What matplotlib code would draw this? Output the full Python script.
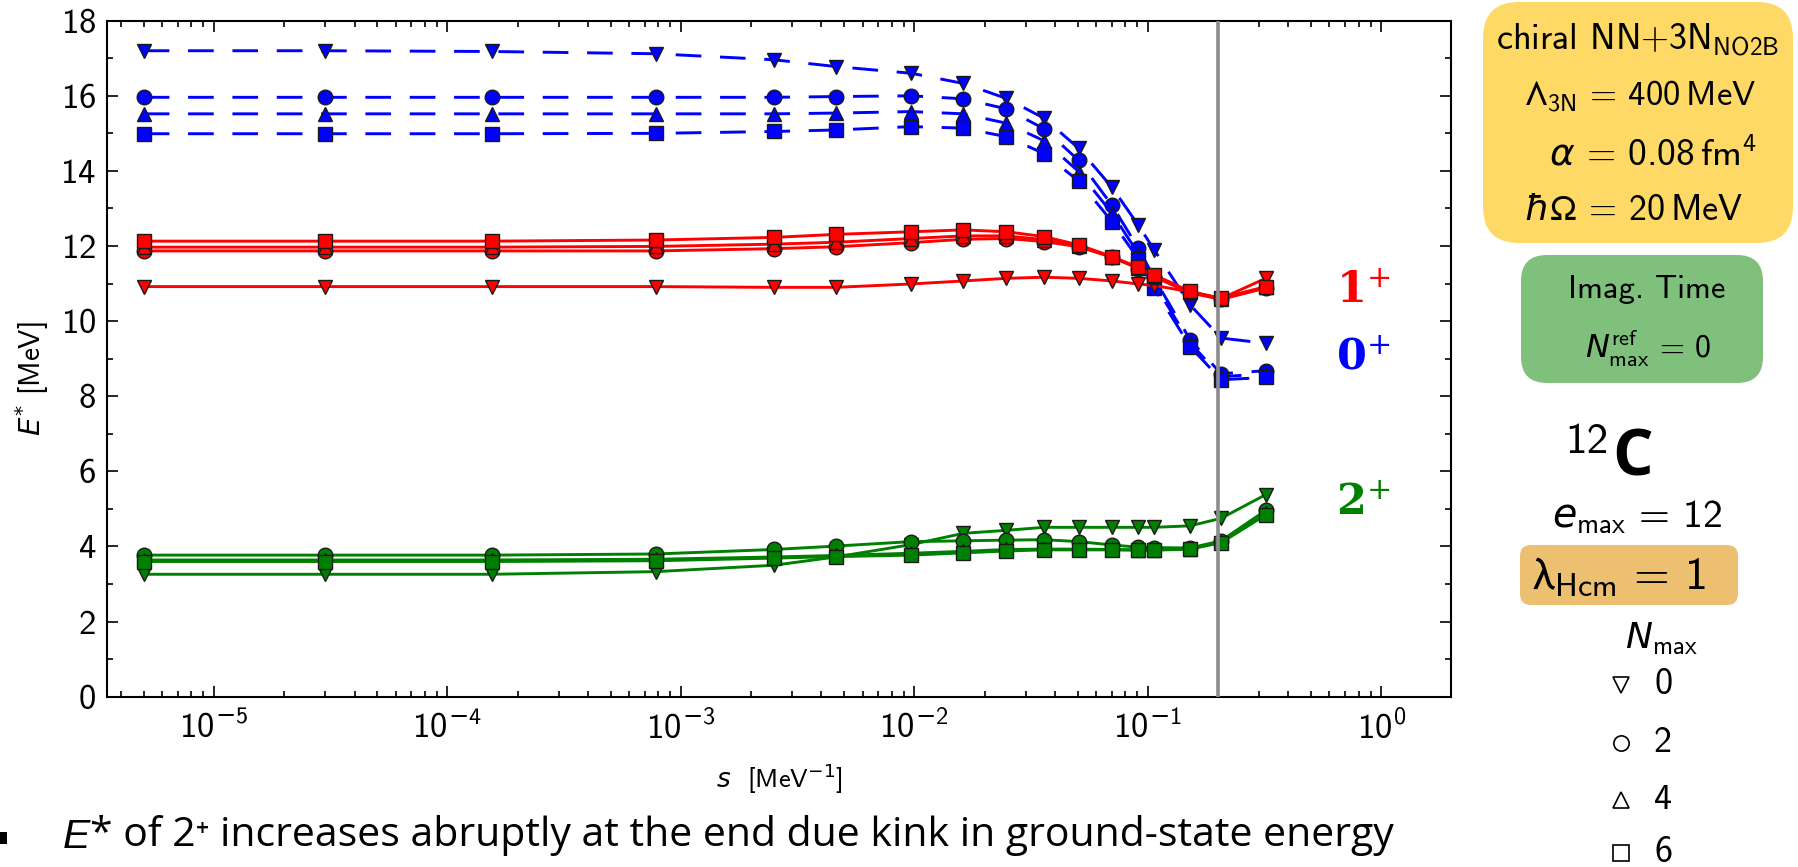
import math
import matplotlib
matplotlib.use("Agg")
import matplotlib.pyplot as plt
from matplotlib.patches import FancyBboxPatch, Rectangle
from matplotlib.ticker import MultipleLocator, LogLocator, NullFormatter, FuncFormatter

# flow parameter s [MeV^-1]
s_values = [5.0e-6, 3.0e-5, 1.55e-4, 7.8e-4, 2.5e-3, 4.6e-3, 9.7e-3, 0.0162,
            0.0248, 0.036, 0.0506, 0.0703, 0.0912, 0.1065, 0.152, 0.206, 0.32]

# excitation energies E* [MeV] of the 0+ state for Nmax = 0, 2, 4, 6
e0p_nmax0 = [17.20, 17.20, 17.18, 17.12, 16.96, 16.78, 16.60, 16.33, 15.93, 15.40, 14.60, 13.56, 12.55, 11.90, 10.43, 9.55, 9.41]
e0p_nmax2 = [15.96, 15.96, 15.96, 15.96, 15.96, 15.98, 16.00, 15.92, 15.65, 15.12, 14.28, 13.08, 11.94, 11.15, 9.50, 8.60, 8.68]
e0p_nmax4 = [15.52, 15.52, 15.52, 15.52, 15.52, 15.54, 15.58, 15.52, 15.27, 14.80, 13.98, 12.87, 11.79, 11.00, 9.42, 8.52, 8.60]
e0p_nmax6 = [14.99, 14.99, 14.99, 15.00, 15.05, 15.09, 15.18, 15.14, 14.91, 14.46, 13.73, 12.65, 11.65, 10.87, 9.32, 8.44, 8.50]

# 1+ state
e1p_nmax0 = [10.92, 10.92, 10.92, 10.92, 10.90, 10.90, 10.99, 11.07, 11.14, 11.17, 11.14, 11.07, 10.99, 10.95, 10.78, 10.60, 11.14]
e1p_nmax2 = [11.87, 11.87, 11.87, 11.87, 11.93, 11.98, 12.09, 12.18, 12.20, 12.12, 11.98, 11.70, 11.40, 11.18, 10.75, 10.58, 10.88]
e1p_nmax4 = [11.97, 11.97, 11.97, 11.99, 12.05, 12.10, 12.20, 12.27, 12.27, 12.17, 12.00, 11.71, 11.41, 11.20, 10.77, 10.60, 10.90]
e1p_nmax6 = [12.13, 12.13, 12.13, 12.16, 12.23, 12.31, 12.38, 12.43, 12.38, 12.25, 12.03, 11.72, 11.43, 11.23, 10.79, 10.61, 10.92]

# 2+ state
e2p_nmax0 = [3.26, 3.26, 3.26, 3.33, 3.50, 3.72, 4.05, 4.35, 4.43, 4.51, 4.51, 4.51, 4.51, 4.51, 4.55, 4.75, 5.38]
e2p_nmax2 = [3.77, 3.77, 3.77, 3.80, 3.92, 4.01, 4.13, 4.15, 4.17, 4.18, 4.13, 4.04, 3.98, 3.97, 3.96, 4.15, 4.96]
e2p_nmax4 = [3.64, 3.64, 3.64, 3.66, 3.72, 3.76, 3.82, 3.87, 3.92, 3.93, 3.93, 3.92, 3.91, 3.91, 3.94, 4.12, 4.90]
e2p_nmax6 = [3.60, 3.60, 3.60, 3.62, 3.69, 3.73, 3.77, 3.83, 3.88, 3.91, 3.91, 3.91, 3.90, 3.90, 3.93, 4.10, 4.84]

nmax_values = [0, 2, 4, 6]
nmax_markers = ["v", "o", "^", "s"]
s_cut = 0.2

plt.rcParams["font.family"] = ["cmss10", "DejaVu Sans"]
plt.rcParams["mathtext.fontset"] = "custom"
plt.rcParams["mathtext.rm"] = "cmss10"
plt.rcParams["mathtext.sf"] = "DejaVu Sans"
plt.rcParams["mathtext.it"] = "DejaVu Sans:italic"
plt.rcParams["mathtext.bf"] = "DejaVu Sans:bold"
plt.rcParams["mathtext.fallback"] = "stixsans"
plt.rcParams["axes.formatter.use_mathtext"] = True

W_PX, H_PX = 1798, 867
fig = plt.figure(figsize=(W_PX / 100, H_PX / 100), dpi=100)

# overlay in pixel coordinates for the side panel and the note below
pax = fig.add_axes([0, 0, 1, 1])
pax.set_xlim(0, W_PX)
pax.set_ylim(H_PX, 0)
pax.axis("off")

ax_l, ax_r, ax_t, ax_b = 107, 1451, 20.7, 696.7
ax = fig.add_axes([ax_l / W_PX, (H_PX - ax_b) / H_PX,
                   (ax_r - ax_l) / W_PX, (ax_b - ax_t) / H_PX])

states = [
    ("blue", (0, (8.8, 6.4)), [e0p_nmax0, e0p_nmax2, e0p_nmax4, e0p_nmax6]),
    ("red", "-", [e1p_nmax0, e1p_nmax2, e1p_nmax4, e1p_nmax6]),
    ("green", "-", [e2p_nmax0, e2p_nmax2, e2p_nmax4, e2p_nmax6]),
]
for color, ls, series in states:
    for energies, marker in zip(series, nmax_markers):
        ax.plot(s_values, energies, color=color, linestyle=ls, lw=2.1,
                marker=marker, ms=10.5, mfc=color, mec="#1a1a1a", mew=1.0)

ax.axvline(s_cut, color="#8c8c8c", lw=2.6, zorder=5)


def log_tick_label(value, pos):
    exponent = int(round(math.log10(value)))
    if exponent < 0:
        return r"$\mathdefault{10^{\mathsf{-}%d}}$" % -exponent
    return r"$\mathdefault{10^{%d}}$" % exponent


ax.set_xscale("log")
ax.set_xlim(3.48e-6, 1.99)
ax.set_ylim(0, 18)
ax.yaxis.set_major_locator(MultipleLocator(2))
ax.yaxis.set_minor_locator(MultipleLocator(1))
ax.xaxis.set_major_locator(LogLocator(base=10, numticks=20))
ax.xaxis.set_minor_locator(LogLocator(base=10, subs=range(2, 10), numticks=20))
ax.xaxis.set_major_formatter(FuncFormatter(log_tick_label))
ax.xaxis.set_minor_formatter(NullFormatter())
ax.tick_params(which="both", direction="in", top=True, right=True, width=1.2)
ax.tick_params(which="major", length=8, labelsize=25)
ax.tick_params(which="minor", length=4.5)
ax.tick_params(axis="y", pad=8)
ax.tick_params(axis="x", pad=10)
for sp in ax.spines.values():
    sp.set_linewidth(1.5)

ax.set_xlabel(r"$s$  [MeV$^{-1}$]", fontsize=19, va="center",
              math_fontfamily="dejavusans")
ax.xaxis.set_label_coords(0.5, -0.122)
ax.set_ylabel(r"$E^{*}$ [MeV]", fontsize=21, va="center",
              math_fontfamily="dejavusans")
ax.yaxis.set_label_coords(-0.056, 0.47)

# state labels
for label, color, e_base in [(r"$\mathbf{1}^{+}$", "red", 10.48),
                             (r"$\mathbf{0}^{+}$", "blue", 8.72),
                             (r"$\mathbf{2}^{+}$", "green", 4.84)]:
    ax.text(0.64, e_base, label, color=color, fontsize=31, ha="left",
            va="baseline", math_fontfamily="dejavuserif")


# side panel
def rounded_box(x0, y0, x1, y1, r, color):
    pax.add_patch(FancyBboxPatch((x0, y0), x1 - x0, y1 - y0,
                                 boxstyle=f"round,pad=0,rounding_size={r}",
                                 fc=color, ec="none"))


rounded_box(1483, 2, 1793, 243, 36, "#FFD966")
rounded_box(1521, 255, 1763, 383, 26, "#80C07D")
rounded_box(1520, 545, 1738, 605, 11, "#EDBF70")

pax.text(1638, 50, r"chiral NN+3N$_{\mathrm{NO2B}}$", fontsize=26,
         ha="center", va="baseline")
pax.text(1640, 105, r"$\Lambda_{\mathrm{3N}}$ = 400$\,$MeV", fontsize=25,
         ha="center", va="baseline")
pax.text(1653, 165, r"$\alpha$ = 0.08$\,$fm$^{4}$", fontsize=27,
         ha="center", va="baseline")
pax.text(1634, 220, r"$\hbar\Omega$ = 20$\,$MeV", fontsize=26,
         ha="center", va="baseline")
pax.text(1647, 298, "Imag. Time", fontsize=23.5, ha="center", va="baseline")
pax.text(1648, 358, r"$N^{\mathrm{ref}}_{\mathrm{max}}$ = 0", fontsize=23,
         ha="center", va="baseline")
pax.text(1608, 453, "12", fontsize=31, ha="right", va="baseline")
pax.text(1612, 476, "C", fontsize=46, ha="left", va="baseline",
         family=["Open Sans", "DejaVu Sans"], weight="bold")
pax.text(1637, 527, r"$e_{\mathrm{max}}$ = 12", fontsize=28.5, ha="center",
         va="baseline")
pax.text(1619, 588, r"$\mathrm{\lambda}_{\mathrm{Hcm}}$ = 1", fontsize=33,
         ha="center", va="baseline")
pax.text(1661, 648, r"$N_{\mathrm{max}}$", fontsize=26, ha="center",
         va="baseline")

legend_rows = [685, 743, 800, 853]
for nmax, marker, y_row in zip(nmax_values, nmax_markers, legend_rows):
    pax.plot([1621], [y_row], marker=marker, ms=11, mfc="none", mec="black",
             mew=1.2, ls="none")
    pax.text(1654, y_row + 9, str(nmax), fontsize=26, ha="left",
             va="baseline")

# note below the chart
pax.add_patch(Rectangle((0, 832), 7, 12, fc="black", ec="none"))
note_e = pax.text(63, 848, "E", fontsize=29.5, ha="left", va="baseline",
                  family=["Liberation Sans", "DejaVu Sans"], style="italic")
pax.annotate("* of 2\u207a increases abruptly at the end due kink in ground-state energy",
             xy=(1, 0), xycoords=note_e, ha="left", va="bottom", fontsize=29.5,
             family=["Open Sans", "DejaVu Sans"])

fig.savefig("out.png", dpi=100)
